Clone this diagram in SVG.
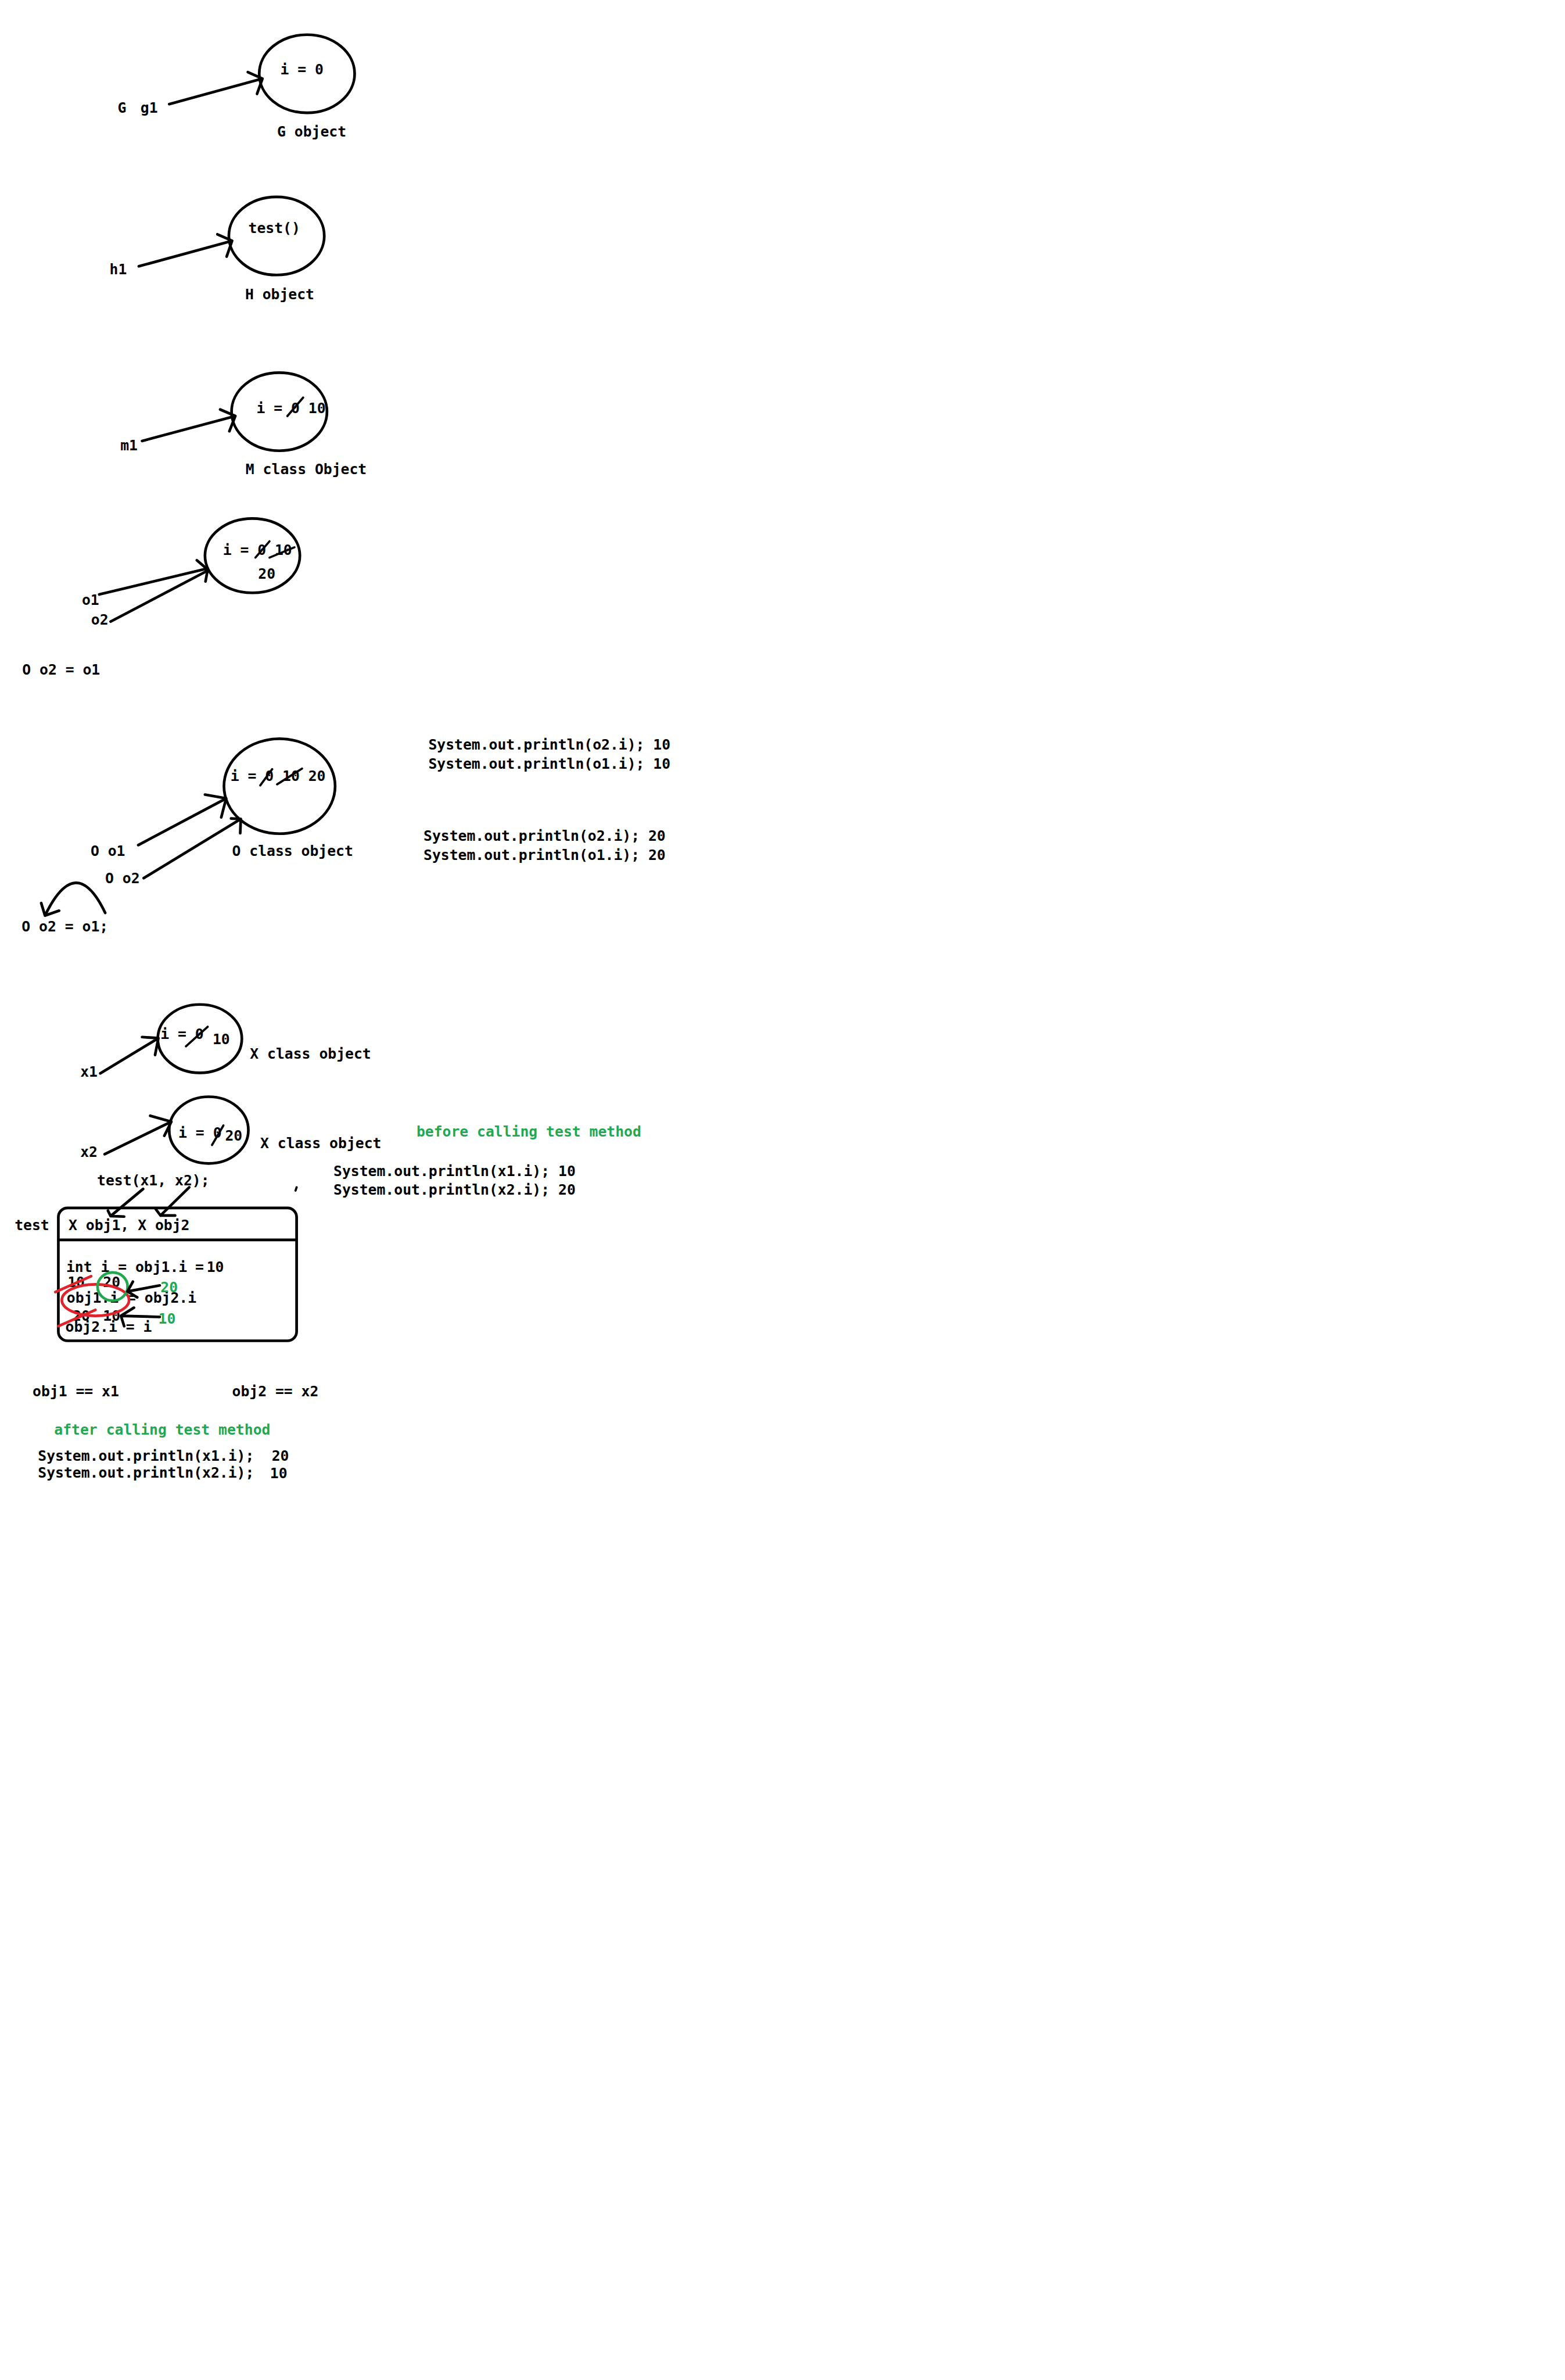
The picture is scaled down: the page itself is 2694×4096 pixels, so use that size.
<svg xmlns="http://www.w3.org/2000/svg" width="2694" height="4096" viewBox="0 0 2694 4096">
<style>
text{font-family:"DejaVu Sans Mono","Liberation Mono",monospace;font-weight:bold;font-size:26.5px;fill:#000}
text.g{fill:#22a84f}
.obj{fill:none;stroke:#000;stroke-width:5}
.ln{fill:none;stroke:#000;stroke-width:5;stroke-linecap:round;stroke-linejoin:round}
.sl{fill:none;stroke:#000;stroke-width:4;stroke-linecap:round}
.red{fill:none;stroke:#e0232b;stroke-width:5;stroke-linecap:round}
.grn{fill:none;stroke:#22a84f;stroke-width:5}
</style>
<rect width="2694" height="4096" fill="#fff"/>
<g transform="scale(0.93347)">
<!-- G -->
<g id="g-object"><ellipse class="obj" cx="566" cy="136" rx="88" ry="72"/><text x="517" y="137">i = 0</text><text x="511" y="252">G object</text></g>
<g id="g1-ref"><text x="217" y="208">G <tspan x="259">g1</tspan></text></g>
<!-- H -->
<g id="h-object"><ellipse class="obj" cx="510" cy="435" rx="88" ry="72"/><text x="458" y="430">test()</text><text x="452" y="552">H object</text></g>
<g id="h1-ref"><text x="202" y="506">h1</text></g>
<!-- M -->
<g id="m-object"><ellipse class="obj" cx="515" cy="759" rx="88" ry="72"/><text x="473" y="762">i = 0 10</text><path class="sl" d="M530,767 L559,733"/><text x="453" y="874">M class Object</text></g>
<g id="m1-ref"><text x="222" y="830">m1</text></g>
<!-- O first -->
<g id="o-object-1"><ellipse class="obj" cx="465.5" cy="1024.5" rx="87.5" ry="68.5"/><text x="411" y="1023">i = 0 10</text><path class="sl" d="M471,1028 L497,998 M497,1028 L543,1009"/><text x="476" y="1067">20</text></g>
<g id="o-refs-1"><text x="151" y="1115">o1</text><text x="168" y="1152">o2</text><text x="41" y="1244">O o2 = o1</text></g>
<!-- O second -->
<g id="o-object-2"><ellipse class="obj" cx="515.5" cy="1449.5" rx="102.5" ry="87.5"/><text x="425" y="1440">i = 0 10 20</text><path class="sl" d="M480,1448 L502,1418 M511,1446 L557,1417"/><text x="428" y="1578">O class object</text></g>
<g id="o-refs-2"><text x="167" y="1578">O o1</text><text x="194" y="1628">O o2</text><text x="40" y="1717">O o2 = o1;</text></g>
<g id="o-prints"><text x="790" y="1382">System.out.println(o2.i); 10</text><text x="790" y="1417">System.out.println(o1.i); 10</text><text x="781" y="1550">System.out.println(o2.i); 20</text><text x="781" y="1585">System.out.println(o1.i); 20</text></g>
<!-- X -->
<g id="x1-object"><ellipse class="obj" cx="368.5" cy="1915" rx="77.5" ry="63"/><text x="296" y="1915">i = 0</text><text x="392" y="1925">10</text><path class="sl" d="M343,1929 L383,1893"/><text x="461" y="1952">X class object</text></g>
<g id="x1-ref"><text x="148" y="1985">x1</text></g>
<g id="x2-object"><ellipse class="obj" cx="385" cy="2083.5" rx="73" ry="61.5"/><text x="329" y="2098">i = 0</text><text x="415" y="2103">20</text><path class="sl" d="M391,2111 L412,2075"/><text x="480" y="2117">X class object</text></g>
<g id="x2-ref"><text x="148" y="2133">x2</text></g>
<g id="before"><text class="g" x="768" y="2095">before calling test method</text><text x="615" y="2168">System.out.println(x1.i); 10</text><text x="615" y="2203">System.out.println(x2.i); 20</text><path class="sl" d="M547,2189 L545,2195"/></g>
<g id="call"><text x="179" y="2185">test(x1, x2);</text></g>
<!-- test method box -->
<g id="test-method">
<text x="27" y="2268">test</text>
<rect class="obj" x="107.6" y="2227" width="439.4" height="245" rx="17"/>
<path class="obj" d="M107.6,2286 L547,2286"/>
<text x="126.5" y="2268">X obj1, X obj2</text>
<text x="122" y="2345">int i = obj1.i</text><text x="360" y="2345">=</text><text x="381" y="2345">10</text>
<text x="124.5" y="2373">10</text><text x="190" y="2373">20</text>
<text x="123" y="2402">obj1.i = obj2.i</text>
<text x="134" y="2435">20</text><text x="190" y="2435">10</text>
<text x="120.6" y="2455">obj2.i = i</text>
<path class="red" d="M102,2382 L168,2353 M107.5,2445 L176,2415"/>
<ellipse class="red" cx="176" cy="2397" rx="62" ry="29"/>
<ellipse class="grn" cx="207.6" cy="2372" rx="27.7" ry="26"/>
<text class="g" x="296" y="2382">20</text>
<text class="g" x="292" y="2440">10</text>
<path class="ln" d="M294.6,2370 L235,2381 M245,2363 L235,2381 L253,2392"/>
<path class="ln" d="M294.6,2428 L223,2426 M247,2411 L223,2426 L229,2445"/>
</g>
<g id="after"><text x="60" y="2574">obj1 == x1</text><text x="428" y="2574">obj2 == x2</text><text class="g" x="100" y="2645">after calling test method</text><text x="70" y="2693">System.out.println(x1.i);</text><text x="501" y="2693">20</text><text x="70" y="2724">System.out.println(x2.i);</text><text x="498" y="2725">10</text></g>
<!-- connectors -->
<g id="connectors">
<path class="ln" d="M312,192 L484,145 M457,133 L484,145 L474,173"/>
<path class="ln" d="M256,491 L428,444 M401,432 L428,444 L418,473"/>
<path class="ln" d="M262,813 L434,767 M406,755 L434,767 L423,795"/>
<path class="ln" d="M183,1096 L383,1048 M204,1146 L383,1052 M363,1033 L383,1050 L379,1072"/>
<path class="ln" d="M255,1558 L417,1472 M378,1465 L417,1472 L408,1507"/>
<path class="ln" d="M265,1619 L444,1510 M426,1509 L444,1510 L443,1536"/>
<path class="ln" d="M194,1683 Q140,1570 83,1688 M76,1665 L83,1688 L109,1679"/>
<path class="ln" d="M185,1979 L292,1914 M262,1912 L292,1914 L286,1945"/>
<path class="ln" d="M193,2128 L316,2068 M277,2057 L316,2068 L303,2094"/>
<path class="ln" d="M264,2192 L204,2242 M199,2232 L204,2242 L229,2243"/>
<path class="ln" d="M349,2189 L296,2241 M287,2229 L296,2241 L323,2241"/>
</g>
</g>
</svg>
